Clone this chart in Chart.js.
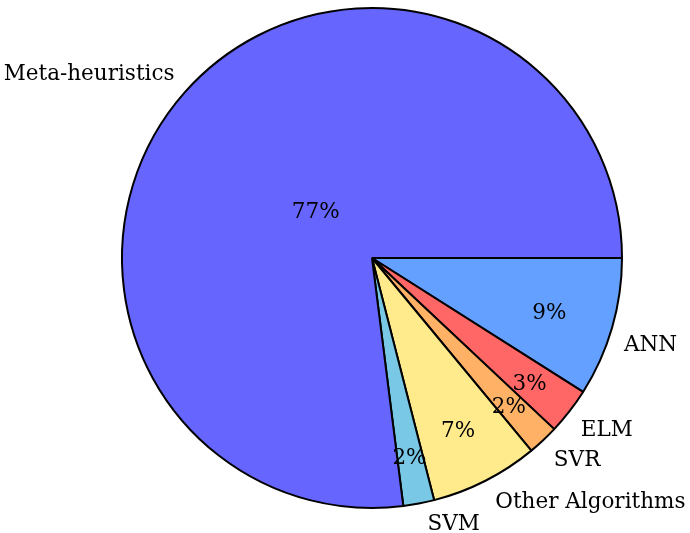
<!DOCTYPE html>
<html>
<head>
<meta charset="utf-8">
<script src="https://cdn.jsdelivr.net/npm/chart.js@4"></script>
<style>
html,body{margin:0;padding:0;background:#fff;}
#wrap{width:690px;height:533px;}
</style>
</head>
<body>
<div id="wrap"><canvas id="c" width="690" height="533"></canvas></div>
<script>
const categories = ["ANN", "ELM", "SVR", "Other Algorithms", "SVM", "Meta-heuristics"];
const values = [9, 3, 2, 7, 2, 77];
const colors = ["#64A0FF", "#FF6666", "#FFB266", "#FFEB8C", "#78C8E6", "#6666FF"];

const FONT = '21.5px "DejaVu Serif"';

const labelPlugin = {
  id: 'pieLabels',
  afterDatasetsDraw(chart) {
    const ctx = chart.ctx;
    const meta = chart.getDatasetMeta(0);
    const total = values.reduce((a, b) => a + b, 0);
    ctx.save();
    ctx.font = FONT;
    ctx.fillStyle = '#000';
    meta.data.forEach((arc, i) => {
      const p = arc.getProps(['x', 'y', 'startAngle', 'endAngle', 'outerRadius'], true);
      const mid = (p.startAngle + p.endAngle) / 2;
      const spanDeg = (p.endAngle - p.startAngle) * 180 / Math.PI;
      const r = p.outerRadius;
      const cs = Math.cos(mid), sn = Math.sin(mid);
      // percentage label
      let f = Math.min((spanDeg - 10) / 110 * (-0.3), 0);
      f = Math.max(f, -0.5) + 0.8;
      const pct = Math.round(values[i] / total * 100) + '%';
      ctx.textAlign = 'center';
      ctx.textBaseline = 'middle';
      ctx.fillText(pct, p.x + cs * f * r, p.y + sn * f * r + 4);
      // outer label
      const txt = categories[i];
      const m = ctx.measureText(txt);
      const w = m.width;
      const asc = m.actualBoundingBoxAscent;
      const desc = Math.max(m.actualBoundingBoxDescent, 0);
      const t = r + 4, sep = 7;
      const ax = p.x + cs * t, ay = p.y + sn * t;
      ctx.textAlign = 'left';
      ctx.textBaseline = 'alphabetic';
      let left, base;
      if (cs >= 0) left = ax + sep + 1; else left = ax - sep - w;
      if (sn >= 0) base = ay + sep + asc + 5; else base = ay - sep - desc + 3;
      ctx.fillText(txt, left, base);
    });
    ctx.restore();
  }
};

new Chart(document.getElementById('c'), {
  type: 'pie',
  data: {
    labels: categories,
    datasets: [{
      data: values,
      backgroundColor: colors,
      borderColor: '#000',
      borderWidth: 2,
      hoverOffset: 0,
      offset: 0
    }]
  },
  options: {
    responsive: false,
    animation: false,
    rotation: 90,
    layout: { padding: { left: 121, right: 67, top: 7, bottom: 24 } },
    plugins: { legend: { display: false }, tooltip: { enabled: false } }
  },
  plugins: [labelPlugin]
});
</script>
</body>
</html>
